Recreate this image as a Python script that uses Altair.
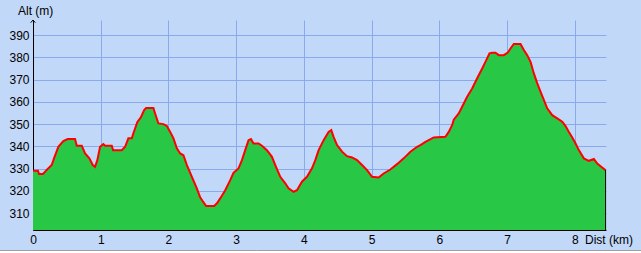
import altair as alt
import pandas as pd

dist_km = [0.0, 0.074, 0.089, 0.148, 0.202, 0.276, 0.310, 0.374, 0.448, 0.513, 0.621, 0.646,
           0.720, 0.769, 0.832, 0.882, 0.916, 0.950, 0.990, 1.039, 1.064, 1.163, 1.182, 1.311,
           1.360, 1.408, 1.459, 1.482, 1.541, 1.592, 1.641, 1.670, 1.778, 1.803, 1.852, 1.926,
           1.976, 2.025, 2.074, 2.124, 2.173, 2.221, 2.272, 2.346, 2.419, 2.468, 2.513, 2.557,
           2.675, 2.719, 2.764, 2.838, 2.912, 2.960, 3.034, 3.085, 3.133, 3.182, 3.218, 3.256,
           3.330, 3.380, 3.454, 3.528, 3.577, 3.651, 3.725, 3.773, 3.847, 3.897, 3.971, 4.045,
           4.119, 4.168, 4.217, 4.291, 4.364, 4.404, 4.438, 4.489, 4.563, 4.636, 4.710, 4.784,
           4.858, 4.932, 5.006, 5.103, 5.177, 5.276, 5.375, 5.473, 5.572, 5.671, 5.720, 5.794,
           5.916, 6.089, 6.138, 6.188, 6.212, 6.286, 6.336, 6.410, 6.484, 6.558, 6.632, 6.680,
           6.740, 6.779, 6.828, 6.877, 6.951, 7.010, 7.050, 7.099, 7.198, 7.247, 7.297, 7.346,
           7.394, 7.444, 7.493, 7.542, 7.592, 7.666, 7.740, 7.814, 7.863, 7.912, 7.962, 8.011,
           8.059, 8.133, 8.207, 8.281, 8.331, 8.380, 8.454]
alt_m = [329.0, 329.0, 327.6, 327.6, 329.4, 331.6, 334.6, 339.8, 342.4, 343.3, 343.3, 340.3,
         340.3, 336.8, 334.6, 331.6, 330.8, 333.8, 339.8, 341.0, 340.3, 340.3, 338.3, 338.3,
         339.8, 343.6, 343.6, 345.9, 351.0, 353.0, 356.3, 357.2, 357.2, 354.8, 350.3, 350.0,
         349.2, 346.5, 343.6, 339.1, 336.8, 336.0, 331.6, 326.3, 321.1, 317.1, 315.0, 313.2,
         313.2, 314.5, 316.6, 320.3, 324.8, 328.1, 330.1, 333.8, 338.3, 342.8, 343.3, 341.3,
         341.3, 340.3, 338.3, 335.3, 331.6, 326.3, 323.4, 321.1, 319.6, 320.3, 324.1, 326.3,
         330.1, 333.8, 338.3, 342.8, 346.5, 347.3, 344.3, 340.6, 337.6, 335.6, 335.0, 333.8,
         331.6, 329.3, 326.3, 326.0, 327.8, 329.6, 332.0, 334.6, 337.6, 339.8, 340.6, 342.0,
         344.0, 344.3, 346.5, 349.5, 352.0, 354.8, 357.8, 362.3, 366.0, 370.6, 375.0, 378.0,
         381.8, 382.1, 382.1, 381.0, 381.0, 382.2, 384.0, 386.0, 386.0, 383.3, 381.0, 378.0,
         372.9, 368.4, 364.6, 360.9, 357.1, 354.0, 352.6, 351.1, 349.1, 346.5, 344.0, 341.3,
         338.3, 334.6, 333.5, 334.3, 332.3, 331.1, 329.3]

x_ticks = [0, 1, 2, 3, 4, 5, 6, 7, 8]
y_ticks = [310, 320, 330, 340, 350, 360, 370, 380, 390]
x_domain = [0, 8.46]
y_domain = [302.4, 396.8]

df = pd.DataFrame({"d": dist_km, "a": alt_m})

FONT = "Liberation Sans"
GRID = "#8aaaf0"

x_axis = alt.Axis(values=x_ticks, format="d", title=None, grid=True, gridColor=GRID,
                  gridOpacity=1, ticks=False, domainColor="black",
                  labelFont=FONT, labelFontSize=12, labelColor="black",
                  labelPadding=4, labelFlush=False, labelOverlap=False,
                  labelBound=False)
y_axis = alt.Axis(values=y_ticks, format="d", title=None, grid=True, gridColor=GRID,
                  gridOpacity=1, ticks=False, domainColor="black",
                  labelFont=FONT, labelFontSize=12, labelColor="black",
                  labelPadding=4, labelOverlap=False, labelBound=False,
                  labelFlush=False)
x_scale = alt.Scale(domain=x_domain, nice=False, zero=False)
y_scale = alt.Scale(domain=y_domain, nice=False, zero=False)

x_enc = alt.X("d:Q", scale=x_scale, axis=x_axis)
y_enc = alt.Y("a:Q", scale=y_scale, axis=y_axis)

area = alt.Chart(df).mark_area(color="#28c846", opacity=1, clip=True).encode(x=x_enc, y=y_enc)
line = alt.Chart(df).mark_line(color="#ff0000", strokeWidth=2, clip=True).encode(x=x_enc, y=y_enc)

last = pd.DataFrame({"d": [dist_km[-1]], "a": [alt_m[-1]], "b": [y_domain[0]]})
edge = alt.Chart(last).mark_rule(color="black", strokeWidth=1).encode(
    x=x_enc, y=y_enc, y2="b:Q")

arrow = alt.Chart(pd.DataFrame({"d": [0], "a": [y_domain[1]]})).mark_point(
    shape="M-1,1.2L0,0L1,1.2", size=20, filled=False, color="black", strokeWidth=1,
    opacity=1).encode(x=x_enc, y=y_enc)

alt_label = alt.Chart(pd.DataFrame({"t": ["Alt (m)"]})).mark_text(
    font=FONT, fontSize=12, align="left", baseline="middle", color="black").encode(
    text="t:N", x=alt.value(-15), y=alt.value(-9))
dist_label = alt.Chart(pd.DataFrame({"t": ["Dist (km)"]})).mark_text(
    font=FONT, fontSize=12, align="left", baseline="middle", color="black").encode(
    text="t:N", x=alt.value(552), y=alt.value(220))

border = alt.Chart(pd.DataFrame({"v": [0]})).mark_rule(color="#a0a0a0", strokeWidth=1).encode(
    x=alt.value(-33), x2=alt.value(608), y=alt.value(230.5))
white = alt.Chart(pd.DataFrame({"v": [0]})).mark_rule(color="#ffffff", strokeWidth=2).encode(
    x=alt.value(-33), x2=alt.value(608), y=alt.value(232))

chart = alt.layer(area, line, edge, arrow, alt_label, dist_label, border, white).properties(
    width=573, height=210,
    padding={"left": 33, "top": 20, "right": 35, "bottom": 23},
    autosize=alt.AutoSizeParams(type="none"),
    background="#c2d8f8",
).configure_view(stroke=None, fill="#c2d8f8")

chart.save("out.html", embed_options={"renderer": "svg", "actions": False})
